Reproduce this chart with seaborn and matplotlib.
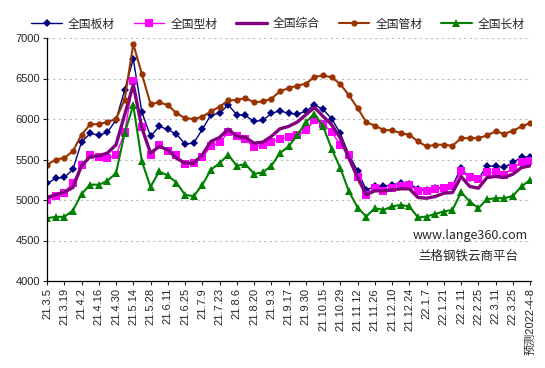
import matplotlib
matplotlib.use('Agg')
import matplotlib.pyplot as plt
import seaborn as sns
import numpy as np

# ---- data ----
dates = ['21.3.5', '21.3.12', '21.3.19', '21.3.26', '21.4.2', '21.4.9', '21.4.16', '21.4.23',
         '21.4.30', '21.5.7', '21.5.14', '21.5.21', '21.5.28', '21.6.4', '21.6.11', '21.6.18',
         '21.6.25', '21.7.2', '21.7.9', '21.7.16', '21.7.23', '21.7.30', '21.8.6', '21.8.13',
         '21.8.20', '21.8.27', '21.9.3', '21.9.10', '21.9.17', '21.9.24', '21.9.30', '21.10.8',
         '21.10.15', '21.10.22', '21.10.29', '21.11.5', '21.11.12', '21.11.19', '21.11.26',
         '21.12.3', '21.12.10', '21.12.17', '21.12.24', '21.12.31', '22.1.7', '22.1.14',
         '22.1.21', '22.1.28', '22.2.11', '22.2.18', '22.2.25', '22.3.4', '22.3.11', '22.3.18',
         '22.3.25', '22.4.1', '预测2022-4-8']

plate = [5204, 5266, 5278, 5377, 5715, 5822, 5801, 5834, 5990, 6356, 6740,
         6085, 5785, 5908, 5871, 5813, 5690, 5702, 5871, 6052, 6069, 6176,
         6052, 6044, 5970, 5982, 6069, 6102, 6069, 6061, 6094, 6176, 6118,
         6003, 5822, 5558, 5360, 5125, 5167, 5167, 5187, 5208, 5200, 5138,
         5125, 5146, 5154, 5179, 5393, 5270, 5261, 5422, 5414, 5405, 5463, 5529, 5529]

section = [4994, 5055, 5092, 5212, 5426, 5550, 5537, 5513, 5550, 5834, 6464,
           5900, 5550, 5673, 5599, 5550, 5439, 5451, 5529, 5661, 5710, 5834,
           5785, 5748, 5649, 5682, 5714, 5756, 5772, 5805, 5859, 5982, 5937,
           5838, 5682, 5550, 5290, 5064, 5154, 5117, 5154, 5179, 5187, 5117,
           5117, 5133, 5146, 5167, 5352, 5278, 5261, 5340, 5340, 5311, 5401, 5467, 5476]

overall = [5031, 5064, 5097, 5154, 5422, 5537, 5546, 5579, 5682, 6052, 6423,
           5888, 5579, 5661, 5620, 5517, 5455, 5455, 5558, 5723, 5772, 5875,
           5785, 5772, 5702, 5714, 5785, 5879, 5908, 5962, 6052, 6143, 6032,
           5929, 5764, 5517, 5278, 5064, 5113, 5113, 5125, 5138, 5138, 5031,
           5022, 5043, 5084, 5092, 5290, 5167, 5146, 5278, 5290, 5278, 5319, 5401, 5422]

pipe = [5434, 5500, 5517, 5603, 5805, 5933, 5937, 5962, 6000, 6238, 6926,
        6555, 6184, 6205, 6172, 6073, 6011, 5999, 6028, 6094, 6151, 6230,
        6234, 6258, 6205, 6217, 6250, 6341, 6382, 6411, 6436, 6518, 6539,
        6514, 6431, 6291, 6135, 5962, 5917, 5867, 5859, 5826, 5805, 5723,
        5661, 5682, 5682, 5669, 5764, 5764, 5764, 5797, 5847, 5818, 5855, 5908, 5950]

long_prod = [4775, 4792, 4792, 4870, 5072, 5191, 5187, 5237, 5331, 5826, 6168,
             5476, 5163, 5352, 5303, 5216, 5064, 5047, 5187, 5373, 5455, 5558,
             5422, 5443, 5323, 5340, 5422, 5579, 5661, 5797, 5958, 6065, 5908,
             5632, 5393, 5105, 4907, 4796, 4899, 4878, 4920, 4940, 4920, 4784,
             4796, 4829, 4858, 4878, 5097, 4981, 4899, 5010, 5022, 5022, 5051, 5167, 5249]

series_names = ['全国板材', '全国型材', '全国综合', '全国管材', '全国长材']

sns.set_style('white')
plt.rcParams['font.family'] = ['Noto Sans CJK SC', 'DejaVu Sans']
tick_font = ['Liberation Sans', 'Noto Sans CJK SC']

W, H = 545, 368
fig = plt.figure(figsize=(W / 100, H / 100), dpi=100)
ax = fig.add_axes([47 / W, 1 - 281 / H, (531 - 47) / W, (281 - 38) / H])

x = np.arange(len(dates))
styles = [
    dict(data=plate, color='#000080', marker='D', markersize=4, linewidth=1.0),
    dict(data=section, color='#FF00FF', marker='s', markersize=6, linewidth=1.0),
    dict(data=overall, color='#800080', marker=None, markersize=0, linewidth=2.4),
    dict(data=pipe, color='#993300', marker='o', markersize=4.5, linewidth=1.5),
    dict(data=long_prod, color='#008000', marker='^', markersize=5.5, linewidth=1.5),
]
for name, st in zip(series_names, styles):
    sns.lineplot(x=x, y=st['data'], ax=ax, color=st['color'], marker=st['marker'],
                 markersize=st['markersize'], markeredgewidth=0, linewidth=st['linewidth'],
                 label=name, legend=False)

ax.set_ylim(4000, 7000)
ax.set_xlim(0, len(dates) - 1 + 0.1)
ax.set_yticks(np.arange(4000, 7001, 500))
ax.set_xticks(x[::2])
ax.set_xticklabels(dates[::2], rotation=90, fontsize=8, family=tick_font)
for lab in ax.get_yticklabels():
    lab.set_family(tick_font)
ax.tick_params(axis='y', labelsize=8, length=3, width=0.8, direction='out', left=True, pad=2)
ax.tick_params(axis='x', length=3, width=0.8, direction='out', bottom=True, pad=2)
ax.yaxis.grid(True, linestyle=(0, (2, 3)), color='#BBBBBB', linewidth=0.8)
ax.xaxis.grid(False)
for s in ['top', 'right']:
    ax.spines[s].set_visible(False)
for s in ['left', 'bottom']:
    ax.spines[s].set_color('black')
    ax.spines[s].set_linewidth(0.9)
ax.set_xlabel('')
ax.set_ylabel('')

handles, labels = ax.get_legend_handles_labels()
fig.legend(handles, labels, loc='center', bbox_to_anchor=(0.51, 1 - 24 / H), ncol=5,
           frameon=False, fontsize=8.5, handlelength=2.6, columnspacing=1.6,
           handletextpad=0.5)

fig.text(470 / W, 1 - 235 / H, 'www.lange360.com', ha='center', va='center', fontsize=9)
fig.text(468 / W, 1 - 256 / H, '兰格钢铁云商平台', ha='center', va='center', fontsize=9)

fig.savefig('out.png', dpi=100)
